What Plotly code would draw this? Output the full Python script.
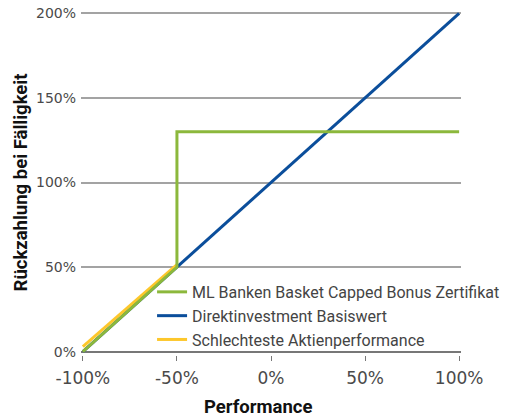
import plotly.graph_objects as go

# Data
perf_green = [-100, -50, -50, 100]
ret_green = [0, 50, 130, 130]
perf_blue = [-100, 100]
ret_blue = [0, 200]
perf_yellow = [-100, -50]
ret_yellow = [3, 51.5]

names = ["ML Banken Basket Capped Bonus Zertifikat",
         "Direktinvestment Basiswert",
         "Schlechteste Aktienperformance"]
x_ticks = [-100, -50, 0, 50, 100]
x_labels = ["-100%", "-50%", "0%", "50%", "100%"]
y_ticks = [0, 50, 100, 150, 200]
y_labels = ["0%", "50%", "100%", "150%", "200%"]
x_title = "Performance"
y_title = "Rückzahlung bei Fälligkeit"

GREEN = "#8cb83c"
BLUE = "#0b4e9b"
YELLOW = "#fdc72b"
TICKFONT = "DejaVu Sans"

fig = go.Figure()
fig.add_trace(go.Scatter(x=perf_blue, y=ret_blue, mode="lines", name=names[1],
                         line=dict(color=BLUE, width=3), legendrank=2))
fig.add_trace(go.Scatter(x=perf_yellow, y=ret_yellow, mode="lines", name=names[2],
                         line=dict(color=YELLOW, width=3), legendrank=3))
fig.add_trace(go.Scatter(x=perf_green, y=ret_green, mode="lines", name=names[0],
                         line=dict(color=GREEN, width=3), legendrank=1))

fig.update_layout(
    width=510, height=418,
    margin=dict(l=81, r=49, t=10, b=63, autoexpand=False),
    plot_bgcolor="white", paper_bgcolor="white",
    font=dict(family="Roboto, sans-serif", color="#444"),
    legend=dict(x=0.187, y=0.232, xanchor="left", yanchor="top",
                bgcolor="rgba(0,0,0,0)", font=dict(size=16, color="#444"),
                tracegroupgap=0),
    showlegend=True,
    annotations=[dict(text="<b>" + x_title + "</b>", xref="paper", yref="paper",
                      x=0.468, y=-0.152, xanchor="center", yanchor="middle",
                      showarrow=False,
                      font=dict(size=18.5, color="#111", family="Roboto, sans-serif"))],
)
fig.update_xaxes(
    range=[-101, 101], tickvals=x_ticks, ticktext=x_labels,
    tickfont=dict(size=17, color="#4a4a4a", family=TICKFONT),
    showgrid=False, zeroline=False, showline=False,
    ticks="outside", ticklen=5, tickcolor="#777", tickwidth=1,
    ticklabelstandoff=3,
)
fig.update_yaxes(
    range=[-2, 202], tickvals=y_ticks, ticktext=y_labels,
    tickfont=dict(size=14, color="#4a4a4a", family=TICKFONT),
    showgrid=True, gridcolor="#a3a3a3", gridwidth=1.5,
    zeroline=True, zerolinecolor="#777", zerolinewidth=1.5,
    showline=False, ticks="", ticklabelstandoff=4,
    title=dict(text="<b>" + y_title + "</b>", font=dict(size=18.5, color="#111", family="Roboto, sans-serif"), standoff=3),
)

fig.write_html("out.html")
